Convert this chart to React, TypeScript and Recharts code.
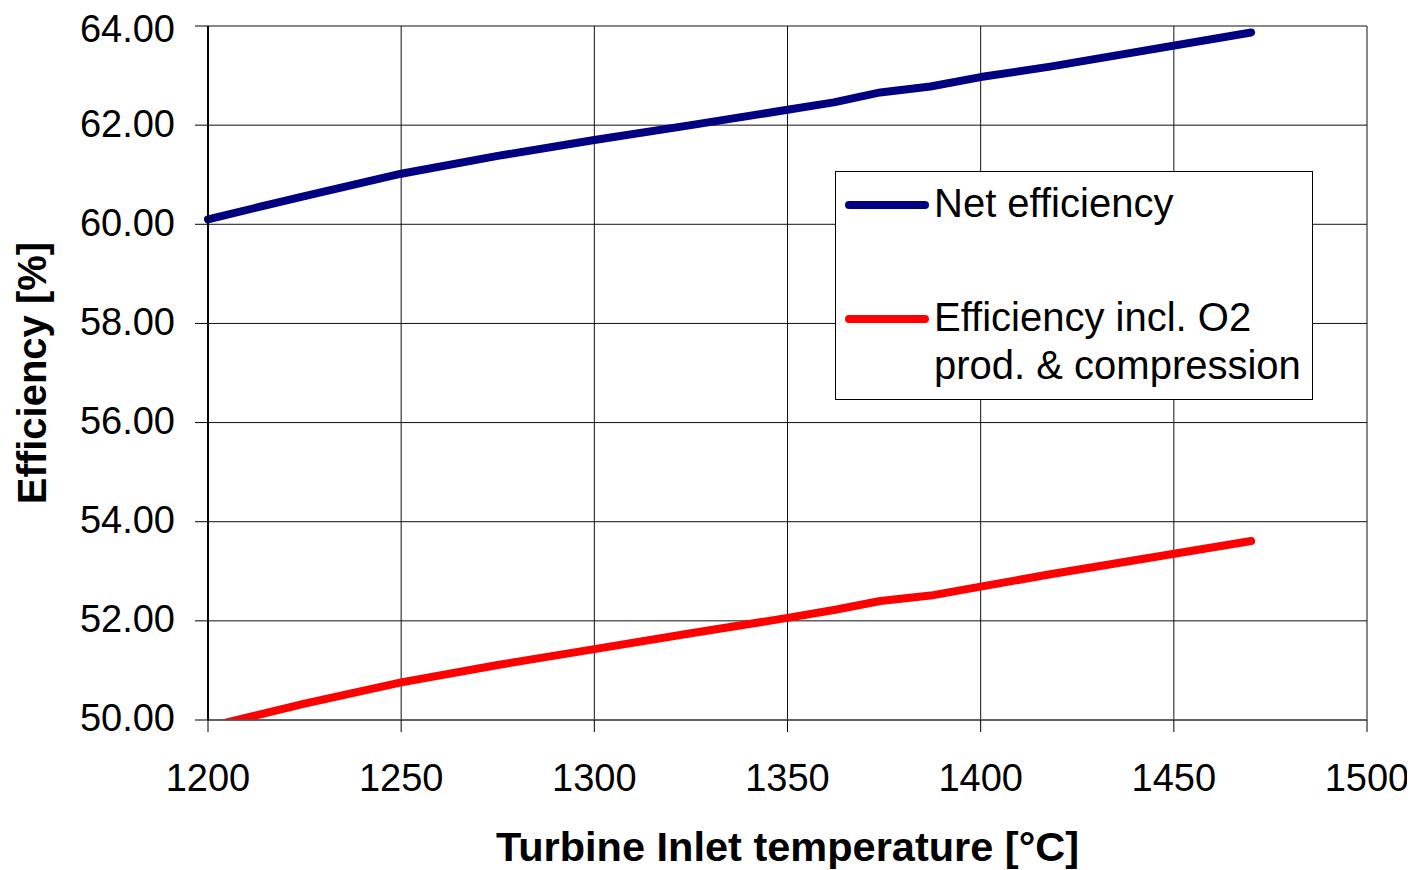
import { LineChart, Line, XAxis, YAxis, CartesianGrid, Label } from 'recharts';

const FONT = '"Liberation Sans", Arial, sans-serif';

// turbine inlet temperature [°C]
const temps = [1200, 1225, 1250, 1275, 1300, 1325, 1350, 1362, 1374, 1387, 1400, 1418, 1470];
// net efficiency [%]
const netEff = [60.1, 60.57, 61.02, 61.38, 61.7, 62.0, 62.31, 62.46, 62.66, 62.78, 62.97, 63.18, 63.87];
// efficiency incl. O2 production & compression [%]
const o2Eff = [49.86, 50.33, 50.76, 51.11, 51.43, 51.75, 52.06, 52.22, 52.4, 52.51, 52.69, 52.94, 53.61];

const xTicks = [1200, 1250, 1300, 1350, 1400, 1450, 1500];
const yTicks = [50, 52, 54, 56, 58, 60, 62, 64];

const data = temps.map((t, i) => ({ temp: t, net: netEff[i], o2: o2Eff[i] }));

function LegendBox() {
  return (
    <svg width={478} height={229} style={{ display: 'block' }}>
      <rect x={0.5} y={0.5} width={477} height={228} fill="#fff" stroke="#000" strokeWidth={1} />
      <line x1={14} y1={34} x2={90} y2={34} stroke="#000080" strokeWidth={8} strokeLinecap="round" />
      <text x={99} y={46} fontSize={40} fontFamily={FONT} fill="#000">
        Net efficiency
      </text>
      <line x1={14} y1={148} x2={90} y2={148} stroke="#FF0000" strokeWidth={8} strokeLinecap="round" />
      <text x={99} y={160} fontSize={40} fontFamily={FONT} fill="#000">
        Efficiency incl. O2
      </text>
      <text x={99} y={208} fontSize={40} fontFamily={FONT} fill="#000">
        prod. &amp; compression
      </text>
    </svg>
  );
}

export default function App() {
  return (
    <div style={{ position: 'relative', width: 1407, height: 862 }}>
      <LineChart width={1407} height={862} data={data} margin={{ top: 18, right: 48, left: 0, bottom: 0 }}>
        <CartesianGrid stroke="#111" strokeWidth={1} />
        <XAxis
          dataKey="temp"
          type="number"
          domain={[1200, 1500]}
          ticks={xTicks}
          height={150}
          tickSize={12}
          tickMargin={32}
          tick={{ fill: '#000', fontSize: 38, fontFamily: FONT }}
          axisLine={{ stroke: '#555', strokeWidth: 1.5 }}
          tickLine={{ stroke: '#000' }}
        >
          <Label
            value="Turbine Inlet temperature [°C]"
            position="insideBottom"
            offset={9}
            style={{ fill: '#000', fontSize: 41.5, fontWeight: 'bold', fontFamily: FONT }}
          />
        </XAxis>
        <YAxis
          type="number"
          domain={[50, 64]}
          ticks={yTicks}
          allowDataOverflow
          width={200}
          tickSize={13}
          tickMargin={20}
          tickFormatter={(v: number) => v.toFixed(2)}
          tick={{ fill: '#000', fontSize: 38, fontFamily: FONT, dy: -2 }}
          axisLine={{ stroke: '#000', strokeWidth: 2 }}
          tickLine={{ stroke: '#000' }}
        >
          <Label
            value="Efficiency [%]"
            angle={-90}
            position="insideLeft"
            offset={24}
            textAnchor="middle"
            style={{ fill: '#000', fontSize: 40, fontWeight: 'bold', fontFamily: FONT, textAnchor: 'middle' }}
          />
        </YAxis>
        <Line
          type="linear"
          dataKey="net"
          name="Net efficiency"
          stroke="#000080"
          strokeWidth={8}
          strokeLinecap="round"
          strokeLinejoin="round"
          dot={false}
          activeDot={false}
          isAnimationActive={false}
        />
        <Line
          type="linear"
          dataKey="o2"
          name="Efficiency incl. O2 prod. & compression"
          stroke="#FF0000"
          strokeWidth={8}
          strokeLinecap="round"
          strokeLinejoin="round"
          dot={false}
          activeDot={false}
          isAnimationActive={false}
        />
      </LineChart>
      <div style={{ position: 'absolute', left: 827, top: 163 }}>
        <LegendBox />
      </div>
    </div>
  );
}
